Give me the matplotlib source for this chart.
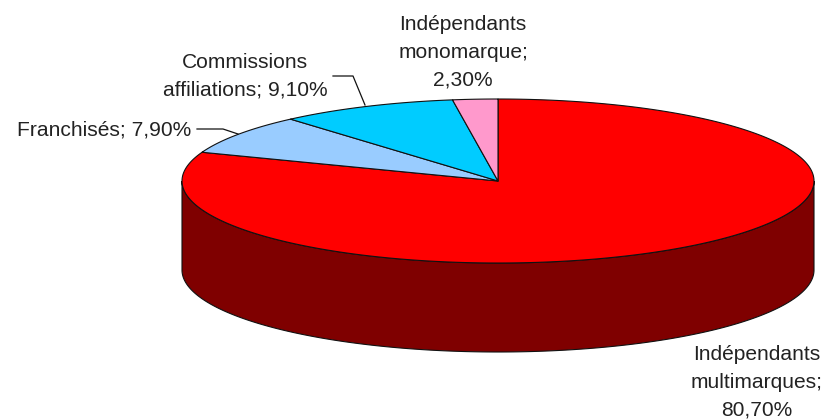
import numpy as np
import matplotlib
matplotlib.use('Agg')
import matplotlib.pyplot as plt

labels = ['Indépendants\nmultimarques;\n80,70%', 'Franchisés; 7,90%', 'Commissions\naffiliations; 9,10%', 'Indépendants\nmonomarque;\n2,30%']
values = [80.7, 7.9, 9.1, 2.3]
colors = ['#ff0000', '#99ccff', '#00ccff', '#ff99cc']
side_color = '#7f0000'

# ellipse du camembert en pixels
cx, cy = 498, 181
rx, ry = 316, 82
depth = 89

def ellipse(a, b, n=300):
    t = np.radians(np.linspace(a, b, n))
    return cx + rx * np.sin(t), cy - ry * np.cos(t)

fig = plt.figure(figsize=(8.25, 4.2), dpi=100)
ax = fig.add_axes([0, 0, 1, 1])
ax.set_xlim(0, 825)
ax.set_ylim(420, 0)
ax.axis('off')

# face avant
x, y = ellipse(90, 270)
ax.fill(np.r_[x, x[::-1]], np.r_[y, y[::-1] + depth], color=side_color, ec='#111111', lw=0.8)

# parts du dessus
start = 0
for v, c in zip(values, colors):
    end = start + v * 3.6
    x, y = ellipse(start, end)
    ax.fill(np.r_[cx, x], np.r_[cy, y], fc=c, ec='#111111', lw=0.8, joinstyle='round')
    start = end

font = dict(family='Liberation Sans', fontsize=15.1, color='#222222', ha='center', va='center', linespacing=1.6)
ax.text(757, 382, labels[0], **font)
ax.text(104, 130, labels[1], **font)
ax.text(245, 76, labels[2], **font)
ax.text(463, 52, labels[3], **font)

# traits de rappel
ax.plot([197, 223, 238], [129, 129, 134], color='#111111', lw=0.9)
ax.plot([333, 353, 365], [76, 76, 105], color='#111111', lw=0.9)

fig.savefig('out.png', dpi=100)
